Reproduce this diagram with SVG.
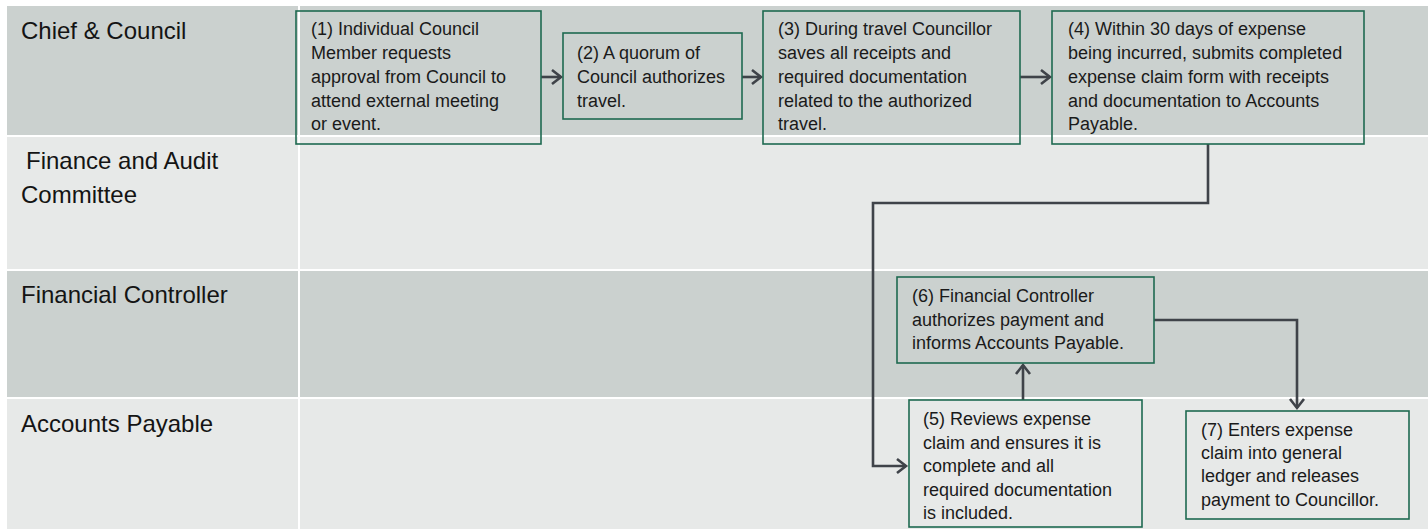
<svg xmlns="http://www.w3.org/2000/svg" width="1428" height="529" viewBox="0 0 1428 529">
  <style>
    .dark { fill: #CBD1CF; }
    .light { fill: #E7E9E8; }
    .lane-label { font-family: "Liberation Sans", Arial, sans-serif; font-size: 24px; fill: #141414; }
    .box { fill: none; stroke: #1F6A50; stroke-width: 1.6; }
    .txt { font-family: "Liberation Sans", Arial, sans-serif; font-size: 18px; fill: #1A1A1A; }
    .link { fill: none; stroke: #3F4349; stroke-width: 2.6; stroke-linejoin: miter; }
  </style>
  <defs>
    <marker id="chev" viewBox="-14 -10 18 20" markerWidth="18" markerHeight="20" refX="0" refY="0" orient="auto" markerUnits="userSpaceOnUse">
      <path d="M-9,-7 L0,0 L-9,7" fill="none" stroke="#3F4349" stroke-width="2.6" stroke-linecap="butt"/>
    </marker>
  </defs>

  <rect x="0" y="0" width="1428" height="529" fill="#FFFFFF"/>

  <!-- swimlane table -->
  <g id="lanes">
    <g id="lane-chief">
      <rect class="dark" x="7" y="6" width="291" height="129"/>
      <rect class="dark" x="300" y="6" width="1128" height="129"/>
      <text class="lane-label" x="21" y="39">Chief &amp; Council</text>
    </g>
    <g id="lane-audit">
      <rect class="light" x="7" y="137" width="291" height="132"/>
      <rect class="light" x="300" y="137" width="1128" height="132"/>
      <text class="lane-label" x="26" y="169">Finance and Audit</text>
      <text class="lane-label" x="21" y="203">Committee</text>
    </g>
    <g id="lane-controller">
      <rect class="dark" x="7" y="271" width="291" height="126"/>
      <rect class="dark" x="300" y="271" width="1128" height="126"/>
      <text class="lane-label" x="21" y="303">Financial Controller</text>
    </g>
    <g id="lane-payable">
      <rect class="light" x="7" y="399" width="291" height="130"/>
      <rect class="light" x="300" y="399" width="1128" height="130"/>
      <text class="lane-label" x="21" y="432">Accounts Payable</text>
    </g>
  </g>

  <!-- connectors -->
  <g id="connectors">
    <path class="link" d="M541,77 H561" marker-end="url(#chev)"/>
    <path class="link" d="M742,77 H761" marker-end="url(#chev)"/>
    <path class="link" d="M1020,77 H1050" marker-end="url(#chev)"/>
    <path class="link" d="M1208,144 V203 H873 V466 H906" marker-end="url(#chev)"/>
    <path class="link" d="M1023,400 V365" marker-end="url(#chev)"/>
    <path class="link" d="M1154,320 H1297 V408" marker-end="url(#chev)"/>
  </g>

  <!-- process steps -->
  <g id="step1">
    <rect class="box" x="296" y="11" width="245" height="133"/>
    <text class="txt" x="311" y="35">(1)  Individual Council</text>
    <text class="txt" x="311" y="59">Member requests</text>
    <text class="txt" x="311" y="83">approval from Council to</text>
    <text class="txt" x="311" y="107">attend external meeting</text>
    <text class="txt" x="311" y="130">or event.</text>
  </g>
  <g id="step2">
    <rect class="box" x="563" y="33" width="179" height="86"/>
    <text class="txt" x="577" y="59">(2)  A quorum of</text>
    <text class="txt" x="577" y="83">Council authorizes</text>
    <text class="txt" x="577" y="107">travel.</text>
  </g>
  <g id="step3">
    <rect class="box" x="763" y="11" width="257" height="133"/>
    <text class="txt" x="778" y="35">(3)  During travel Councillor</text>
    <text class="txt" x="778" y="59">saves all  receipts and</text>
    <text class="txt" x="778" y="83">required documentation</text>
    <text class="txt" x="778" y="107">related to the authorized</text>
    <text class="txt" x="778" y="130">travel.</text>
  </g>
  <g id="step4">
    <rect class="box" x="1052" y="11" width="312" height="133"/>
    <text class="txt" x="1068" y="35">(4) Within 30 days of expense</text>
    <text class="txt" x="1068" y="59">being incurred, submits completed</text>
    <text class="txt" x="1068" y="83">expense claim form with receipts</text>
    <text class="txt" x="1068" y="107">and documentation  to Accounts</text>
    <text class="txt" x="1068" y="130">Payable.</text>
  </g>
  <g id="step5">
    <rect class="box" x="909" y="400" width="233" height="127"/>
    <text class="txt" x="923" y="425">(5) Reviews expense</text>
    <text class="txt" x="923" y="449">claim and ensures it is</text>
    <text class="txt" x="923" y="472">complete and all</text>
    <text class="txt" x="923" y="496">required documentation</text>
    <text class="txt" x="923" y="519">is included.</text>
  </g>
  <g id="step6">
    <rect class="box" x="897" y="277" width="257" height="86"/>
    <text class="txt" x="912" y="302">(6) Financial Controller</text>
    <text class="txt" x="912" y="326">authorizes payment and</text>
    <text class="txt" x="912" y="349">informs Accounts Payable.</text>
  </g>
  <g id="step7">
    <rect class="box" x="1186" y="411" width="223" height="108"/>
    <text class="txt" x="1201" y="436">(7) Enters expense</text>
    <text class="txt" x="1201" y="459">claim into general</text>
    <text class="txt" x="1201" y="482">ledger and releases</text>
    <text class="txt" x="1201" y="506">payment to Councillor.</text>
  </g>
</svg>
